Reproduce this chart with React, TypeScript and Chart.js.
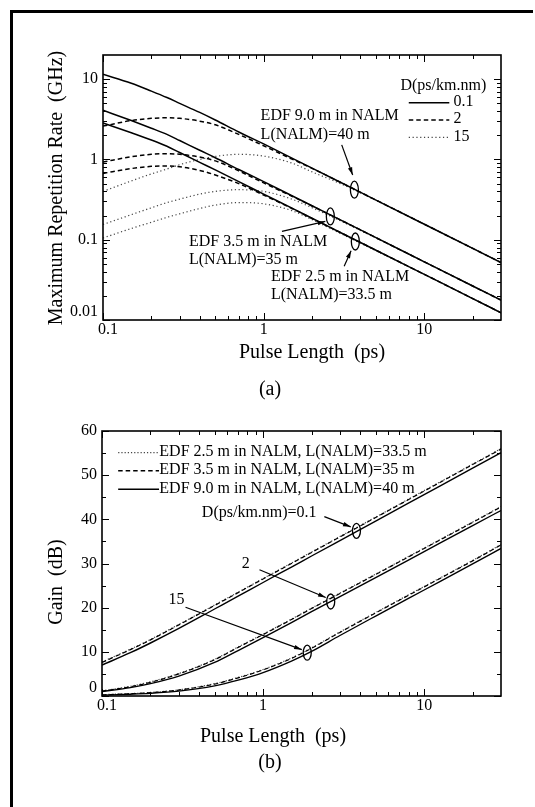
import React, { useEffect, useRef } from 'react';
import { Chart, registerables } from 'chart.js';
Chart.register(...registerables);

const FONT = '"Liberation Serif", "Times New Roman", serif';

// ---------- Panel (a): Maximum repetition rate ----------
const pulseA = [0.1, 0.15, 0.2, 0.25, 0.3, 0.4, 0.5, 0.7, 1, 1.5, 2, 3, 5, 10, 20, 30];
// D = 0.1 (solid)
const rate9m_D01 = [11.5, 8.9, 7.1, 5.9, 5.0, 3.85, 3.1, 2.2, 1.56, 1.04, 0.78, 0.52, 0.312, 0.156, 0.078, 0.052];
const rate35m_D01 = [4.1, 3.05, 2.45, 2.05, 1.72, 1.3, 1.05, 0.75, 0.53, 0.353, 0.265, 0.177, 0.106, 0.053, 0.0265, 0.0177];
const rate25m_D01 = [2.85, 2.15, 1.75, 1.46, 1.22, 0.92, 0.74, 0.53, 0.37, 0.247, 0.185, 0.123, 0.074, 0.037, 0.0185, 0.0123];
// D = 2 (dashed)
const rate9m_D2 = [2.6, 3.05, 3.25, 3.3, 3.25, 3.0, 2.7, 2.05, 1.48, 1.01, 0.775, 0.52, 0.312, 0.156, 0.078, 0.052];
const rate35m_D2 = [0.93, 1.08, 1.16, 1.18, 1.16, 1.07, 0.96, 0.72, 0.51, 0.348, 0.263, 0.177, 0.106, 0.053, 0.0265, 0.0177];
const rate25m_D2 = [0.67, 0.77, 0.82, 0.83, 0.81, 0.73, 0.64, 0.5, 0.36, 0.245, 0.184, 0.123, 0.074, 0.037, 0.0185, 0.0123];
// D = 15 (dotted)
const rate9m_D15 = [0.4, 0.54, 0.66, 0.76, 0.86, 1.0, 1.09, 1.16, 1.1, 0.9, 0.7, 0.5, 0.31, 0.156, 0.078, 0.052];
const rate35m_D15 = [0.155, 0.205, 0.25, 0.29, 0.32, 0.37, 0.4, 0.42, 0.4, 0.32, 0.25, 0.172, 0.105, 0.053, 0.0265, 0.0177];
const rate25m_D15 = [0.105, 0.138, 0.165, 0.19, 0.21, 0.245, 0.27, 0.29, 0.28, 0.23, 0.178, 0.12, 0.073, 0.037, 0.0185, 0.0123];

const xMajorTicks = [0.1, 1, 10];
const xTickLabels = ['0.1', '1', '10'];
const yMajorTicksA = [0.01, 0.1, 1, 10];
const yTickLabelsA = ['0.01', '0.1', '1', '10'];

// ---------- Panel (b): Gain ----------
const pulseB = [0.1, 0.15, 0.2, 0.3, 0.5, 0.7, 1, 1.5, 2, 3, 5, 10, 20, 30];
const gain9m_D01 = [7.0, 9.8, 12.0, 15.3, 19.7, 22.6, 25.7, 29.2, 31.7, 35.2, 39.6, 45.6, 51.6, 55.1];
const gain35m_D01 = [7.6, 10.5, 12.7, 16.1, 20.5, 23.4, 26.5, 30.0, 32.5, 36.0, 40.4, 46.4, 52.4, 55.9];
const gain25m_D01 = [7.7, 10.6, 12.8, 16.2, 20.6, 23.5, 26.6, 30.1, 32.6, 36.1, 40.5, 46.5, 52.5, 56.0];
const gain9m_D2 = [1.0, 1.9, 2.8, 4.5, 7.6, 10.3, 13.2, 16.6, 19.1, 22.5, 26.8, 32.7, 38.6, 42.0];
const gain35m_D2 = [1.1, 2.1, 3.1, 5.0, 8.2, 11.0, 13.9, 17.3, 19.8, 23.2, 27.5, 33.4, 39.3, 42.8];
const gain25m_D2 = [1.15, 2.2, 3.2, 5.1, 8.3, 11.1, 14.0, 17.4, 19.9, 23.3, 27.6, 33.5, 39.4, 42.9];
const gain9m_D15 = [0.2, 0.4, 0.6, 1.1, 2.3, 3.6, 5.3, 7.9, 10.1, 13.7, 18.1, 24.0, 29.9, 33.4];
const gain35m_D15 = [0.25, 0.5, 0.75, 1.35, 2.7, 4.1, 5.9, 8.5, 10.8, 14.4, 18.8, 24.7, 30.6, 34.2];
const gain25m_D15 = [0.3, 0.55, 0.8, 1.4, 2.8, 4.2, 6.0, 8.6, 10.9, 14.5, 18.9, 24.8, 30.7, 34.3];

const yMajorTicksB = [0, 10, 20, 30, 40, 50, 60];
const yTickLabelsB = ['0', '10', '20', '30', '40', '50', '60'];
const yMinorTicksB = [5, 15, 25, 35, 45, 55];

const legendB = [
  'EDF 2.5 m in NALM, L(NALM)=33.5 m',
  'EDF 3.5 m in NALM, L(NALM)=35 m',
  'EDF 9.0 m in NALM, L(NALM)=40 m',
];

const SOLID: number[] = [];
const DASH = [4.5, 3];
const DOT_A = [1.2, 2.6];
const DOT_B = [1.2, 2];

function logMinor(min: number, max: number) {
  const out: number[] = [];
  for (let d = Math.floor(Math.log10(min)); d <= Math.ceil(Math.log10(max)); d++) {
    for (let k = 2; k <= 9; k++) {
      const v = k * Math.pow(10, d);
      if (v > min && v < max) out.push(v);
    }
  }
  return out;
}

function line(ctx: CanvasRenderingContext2D, x1: number, y1: number, x2: number, y2: number) {
  ctx.beginPath();
  ctx.moveTo(x1, y1);
  ctx.lineTo(x2, y2);
  ctx.stroke();
}

function arrow(ctx: CanvasRenderingContext2D, x1: number, y1: number, x2: number, y2: number) {
  ctx.lineWidth = 1.2;
  line(ctx, x1, y1, x2, y2);
  const a = Math.atan2(y2 - y1, x2 - x1);
  const h = 8;
  ctx.beginPath();
  ctx.moveTo(x2, y2);
  ctx.lineTo(x2 - h * Math.cos(a - 0.28), y2 - h * Math.sin(a - 0.28));
  ctx.lineTo(x2 - h * Math.cos(a + 0.28), y2 - h * Math.sin(a + 0.28));
  ctx.closePath();
  ctx.fill();
}

function ellipse(ctx: CanvasRenderingContext2D, x: number, y: number, rx: number, ry: number) {
  ctx.lineWidth = 1.3;
  ctx.beginPath();
  ctx.ellipse(x, y, rx, ry, 0, 0, Math.PI * 2);
  ctx.stroke();
}

type FrameCfg = {
  xMinor: number[];
  yMajor: number[];
  yMinor: number[];
  yLabels: string[];
  bottomYLabel: string;
};

function drawFrame(chart: any, cfg: FrameCfg) {
  const { ctx, chartArea: ca, scales } = chart;
  const xs = scales.x;
  const ys = scales.y;
  ctx.save();
  ctx.strokeStyle = '#000';
  ctx.fillStyle = '#000';
  ctx.setLineDash([]);
  ctx.lineWidth = 1;
  const MJ = 7;
  const MN = 4;
  for (const v of xMajorTicks) {
    const p = Math.round(xs.getPixelForValue(v)) + 0.5;
    line(ctx, p, ca.bottom, p, ca.bottom - MJ);
    line(ctx, p, ca.top, p, ca.top + MJ);
  }
  for (const v of cfg.xMinor) {
    const p = Math.round(xs.getPixelForValue(v)) + 0.5;
    line(ctx, p, ca.bottom, p, ca.bottom - MN);
    line(ctx, p, ca.top, p, ca.top + MN);
  }
  for (const v of cfg.yMajor) {
    const p = Math.round(ys.getPixelForValue(v)) + 0.5;
    line(ctx, ca.left, p, ca.left + MJ, p);
    line(ctx, ca.right, p, ca.right - MJ, p);
  }
  for (const v of cfg.yMinor) {
    const p = Math.round(ys.getPixelForValue(v)) + 0.5;
    line(ctx, ca.left, p, ca.left + MN, p);
    line(ctx, ca.right, p, ca.right - MN, p);
  }
  ctx.lineWidth = 1.6;
  ctx.strokeRect(ca.left, ca.top, ca.right - ca.left, ca.bottom - ca.top);

  ctx.font = '16px ' + FONT;
  ctx.textAlign = 'center';
  ctx.textBaseline = 'top';
  xMajorTicks.forEach((v, i) => {
    const p = xs.getPixelForValue(v) + (i === 0 ? 5 : 0);
    ctx.fillText(xTickLabels[i], p, ca.bottom + 2);
  });
  ctx.textAlign = 'right';
  ctx.textBaseline = 'middle';
  cfg.yMajor.forEach((v, i) => {
    let p = ys.getPixelForValue(v);
    if (cfg.yLabels[i] === cfg.bottomYLabel) p -= 8;
    ctx.fillText(cfg.yLabels[i], ca.left - 5, p);
  });
  ctx.restore();
}

function text(ctx: CanvasRenderingContext2D, s: string, x: number, y: number, align: CanvasTextAlign = 'left') {
  ctx.textAlign = align;
  ctx.textBaseline = 'middle';
  ctx.fillText(s, x, y);
}

function makeDs(label: string, xs: number[], ys: number[], dash: number[], color = '#000', width = 1.5) {
  return {
    label,
    data: xs.map((x, i) => ({ x, y: ys[i] })),
    borderColor: color,
    borderWidth: width,
    borderDash: dash,
    pointRadius: 0,
    fill: false,
    cubicInterpolationMode: 'monotone' as const,
  };
}

const annotA = {
  id: 'annotA',
  afterDatasetsDraw(chart: any) {
    const { ctx, chartArea: ca, scales } = chart;
    const X = (v: number) => scales.x.getPixelForValue(v);
    const Y = (v: number) => scales.y.getPixelForValue(v);
    drawFrame(chart, {
      xMinor: logMinor(0.1, 30),
      yMajor: yMajorTicksA,
      yMinor: logMinor(0.01, 20),
      yLabels: yTickLabelsA,
      bottomYLabel: '0.01',
    });
    ctx.save();
    ctx.fillStyle = '#000';
    ctx.strokeStyle = '#000';
    ctx.font = '16px ' + FONT;
    // legend
    text(ctx, 'D(ps/km.nm)', X(7.1), Y(8.3));
    const legRows: [number[], string, number, string, number][] = [
      [SOLID, '0.1', 5.1, '#000', 1.5],
      [DASH, '2', 3.1, '#000', 1.5],
      [DOT_A, '15', 1.88, '#444', 1.2],
    ];
    legRows.forEach(([d, s, yv, c, w]) => {
      ctx.save();
      ctx.setLineDash(d);
      ctx.strokeStyle = c;
      ctx.lineWidth = w;
      line(ctx, X(8.0), Y(yv), X(14.3), Y(yv));
      ctx.restore();
      text(ctx, s, X(15.2), Y(yv) - 1);
    });
    // annotations
    text(ctx, 'EDF 9.0 m in NALM', X(0.957), Y(3.53));
    text(ctx, 'L(NALM)=40 m', X(0.957), Y(2.03));
    arrow(ctx, X(3.06), Y(1.52), X(3.58), Y(0.64));
    ellipse(ctx, X(3.67), Y(0.42), 4, 8.5);

    ellipse(ctx, X(2.6), Y(0.195), 4, 8.5);
    arrow(ctx, X(1.3), Y(0.127), X(2.42), Y(0.169));
    text(ctx, 'EDF 3.5 m in NALM', X(0.343), Y(0.095));
    text(ctx, 'L(NALM)=35 m', X(0.343), Y(0.056));

    ellipse(ctx, X(3.72), Y(0.095), 4, 8.5);
    arrow(ctx, X(3.17), Y(0.0466), X(3.5), Y(0.073));
    text(ctx, 'EDF 2.5 m in NALM', X(1.11), Y(0.035));
    text(ctx, 'L(NALM)=33.5 m', X(1.11), Y(0.0207));

    // titles
    ctx.font = '20px ' + FONT;
    text(ctx, 'Pulse Length  (ps)', 312, ca.bottom + 33, 'center');
    text(ctx, '(a)', 270, ca.bottom + 70, 'center');
    ctx.save();
    ctx.translate(57, 188);
    ctx.rotate(-Math.PI / 2);
    text(ctx, 'Maximum Repetition Rate  (GHz)', 0, 0, 'center');
    ctx.restore();
    ctx.restore();
  },
};

const annotB = {
  id: 'annotB',
  afterDatasetsDraw(chart: any) {
    const { ctx, chartArea: ca, scales } = chart;
    const X = (v: number) => scales.x.getPixelForValue(v);
    const Y = (v: number) => scales.y.getPixelForValue(v);
    drawFrame(chart, {
      xMinor: logMinor(0.1, 30),
      yMajor: yMajorTicksB,
      yMinor: yMinorTicksB,
      yLabels: yTickLabelsB,
      bottomYLabel: '0',
    });
    ctx.save();
    ctx.fillStyle = '#000';
    ctx.strokeStyle = '#000';
    ctx.font = '16px ' + FONT;
    const rows: [number[], number, string, number][] = [
      [DOT_B, 55.1, '#444', 1.2],
      [DASH, 51.0, '#000', 1.5],
      [SOLID, 46.8, '#000', 1.5],
    ];
    rows.forEach(([d, yv, c, w], i) => {
      ctx.save();
      ctx.setLineDash(d);
      ctx.strokeStyle = c;
      ctx.lineWidth = w;
      line(ctx, X(0.126), Y(yv), X(0.226), Y(yv));
      ctx.restore();
      text(ctx, legendB[i], X(0.227), Y(yv) - 1);
    });
    text(ctx, 'D(ps/km.nm)=0.1', X(2.15), Y(41.4), 'right');
    arrow(ctx, X(2.4), Y(40.6), X(3.5), Y(38.3));
    ellipse(ctx, X(3.8), Y(37.4), 4, 7.5);

    text(ctx, '2', X(0.78), Y(29.9), 'center');
    arrow(ctx, X(0.95), Y(28.6), X(2.45), Y(22.3));
    ellipse(ctx, X(2.63), Y(21.4), 4, 7.5);

    text(ctx, '15', X(0.29), Y(21.8), 'center');
    arrow(ctx, X(0.33), Y(20.1), X(1.74), Y(10.5));
    ellipse(ctx, X(1.88), Y(9.8), 4, 7.5);

    ctx.font = '20px ' + FONT;
    text(ctx, 'Pulse Length  (ps)', 273, ca.bottom + 41, 'center');
    text(ctx, '(b)', 270, ca.bottom + 67, 'center');
    ctx.save();
    ctx.translate(57, 182);
    ctx.rotate(-Math.PI / 2);
    text(ctx, 'Gain  (dB)', 0, 0, 'center');
    ctx.restore();
    ctx.restore();
  },
};

function baseOptions(padding: any, yType: 'logarithmic' | 'linear', yMin: number, yMax: number) {
  return {
    responsive: false,
    animation: false as const,
    layout: { padding },
    plugins: { legend: { display: false }, tooltip: { enabled: false } },
    elements: { line: { tension: 0 } },
    scales: {
      x: { type: 'logarithmic' as const, min: 0.1, max: 30, display: false },
      y: { type: yType, min: yMin, max: yMax, display: false },
    },
  };
}

export default function App() {
  const refA = useRef<HTMLCanvasElement>(null);
  const refB = useRef<HTMLCanvasElement>(null);

  useEffect(() => {
    const dsA = [
      makeDs('9.0 m, D=0.1', pulseA, rate9m_D01, SOLID),
      makeDs('3.5 m, D=0.1', pulseA, rate35m_D01, SOLID),
      makeDs('2.5 m, D=0.1', pulseA, rate25m_D01, SOLID),
      makeDs('9.0 m, D=2', pulseA, rate9m_D2, DASH),
      makeDs('3.5 m, D=2', pulseA, rate35m_D2, DASH),
      makeDs('2.5 m, D=2', pulseA, rate25m_D2, DASH),
      makeDs('9.0 m, D=15', pulseA, rate9m_D15, DOT_A, '#444', 1.2),
      makeDs('3.5 m, D=15', pulseA, rate35m_D15, DOT_A, '#444', 1.2),
      makeDs('2.5 m, D=15', pulseA, rate25m_D15, DOT_A, '#444', 1.2),
    ];
    const chartA = new Chart(refA.current as HTMLCanvasElement, {
      type: 'line',
      data: { datasets: dsA as any },
      options: baseOptions({ left: 103, top: 55, right: 34, bottom: 80 }, 'logarithmic', 0.01, 20) as any,
      plugins: [annotA],
    });

    const dsB = [
      makeDs('9.0 m, D=0.1', pulseB, gain9m_D01, SOLID, '#000', 1.4),
      makeDs('3.5 m, D=0.1', pulseB, gain35m_D01, DASH, '#000', 1.2),
      makeDs('2.5 m, D=0.1', pulseB, gain25m_D01, DOT_B, '#444', 1.2),
      makeDs('9.0 m, D=2', pulseB, gain9m_D2, SOLID, '#000', 1.4),
      makeDs('3.5 m, D=2', pulseB, gain35m_D2, DASH, '#000', 1.2),
      makeDs('2.5 m, D=2', pulseB, gain25m_D2, DOT_B, '#444', 1.2),
      makeDs('9.0 m, D=15', pulseB, gain9m_D15, SOLID, '#000', 1.4),
      makeDs('3.5 m, D=15', pulseB, gain35m_D15, DASH, '#000', 1.2),
      makeDs('2.5 m, D=15', pulseB, gain25m_D15, DOT_B, '#444', 1.2),
    ];
    const chartB = new Chart(refB.current as HTMLCanvasElement, {
      type: 'line',
      data: { datasets: dsB as any },
      options: baseOptions({ left: 102, top: 31, right: 34, bottom: 111 }, 'linear', 0, 60) as any,
      plugins: [annotB],
    });
    return () => {
      chartA.destroy();
      chartB.destroy();
    };
  }, []);

  return (
    <div style={{ position: 'absolute', left: 0, top: 0, width: 535, height: 807, background: '#fff', overflow: 'hidden' }}>
      <div
        style={{
          position: 'absolute',
          left: 10,
          top: 10,
          width: 520,
          height: 800,
          borderLeft: '3px solid #000',
          borderTop: '3px solid #000',
        }}
      />
      <canvas ref={refA} width={535} height={400} style={{ position: 'absolute', left: 0, top: 0, width: 535, height: 400 }} />
      <canvas ref={refB} width={535} height={407} style={{ position: 'absolute', left: 0, top: 400, width: 535, height: 407 }} />
    </div>
  );
}
